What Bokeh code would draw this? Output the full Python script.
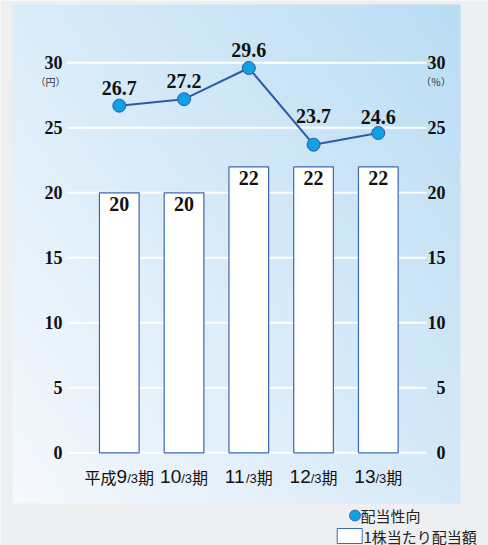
import numpy as np
from bokeh.plotting import figure
from bokeh.models import ColumnDataSource, Range1d
from bokeh.core.properties import value
from bokeh.embed import file_html
from bokeh.resources import INLINE

# ---------------- data ----------------
period_prefix = ["平成", "", "", "", ""]
period_year = ["9", "10", "11", "12", "13"]
period_month = "/3"
period_kanji = "期"
dividend = [20, 20, 22, 22, 22]            # 1株当たり配当額 (円)
payout = [26.7, 27.2, 29.6, 23.7, 24.6]    # 配当性向 (%)
y_ticks = [0, 5, 10, 15, 20, 25, 30]
left_unit = "（円）"
right_unit = "（％）"
legend_labels = ["配当性向", "1株当たり配当額"]

# ---------------- layout (page pixels -> data) ----------------
W, H = 488, 545
CAT0, STEP = 118.8, 64.75
ZERO, UNIT = 452.3, 13.0


def dx(px):
    return (px - CAT0) / STEP


def dy(py):
    return (ZERO - py) / UNIT


GRAY = "#edeff1"
BLUE_LINE = "#2d5ba8"
BAR_LINE = "#3b67b4"
DOT = "#0fa1e6"
SERIF = value("Liberation Serif")
SANS = value("Noto Sans CJK JP")
DIGITS = value("Liberation Sans")

p = figure(width=W, height=H, x_range=Range1d(dx(0), dx(W)), y_range=Range1d(dy(H), dy(0)),
           output_backend="svg", toolbar_location=None, min_border=0, title=None,
           x_axis_type=None, y_axis_type=None, outline_line_color=None,
           background_fill_color=GRAY, border_fill_color=GRAY)
p.grid.visible = False

# gradient panel
nx, ny = 224, 250
u = np.linspace(0, 1, nx)[None, :]
v = np.linspace(0, 1, ny)[:, None]
t = 0.55 * u + 0.45 * v
c0 = np.array([246, 249, 253])
c1 = np.array([186, 221, 244])
img = np.empty((ny, nx), dtype=np.uint32)
view = img.view(dtype=np.uint8).reshape((ny, nx, 4))
for k in range(3):
    view[:, :, k] = (c0[k] + (c1[k] - c0[k]) * t).astype(np.uint8)
view[:, :, 3] = 255
p.image_rgba(image=[img], x=dx(12), y=dy(503), dw=dx(460) - dx(12), dh=dy(4) - dy(503))

# grid lines
p.segment(x0=[dx(66.7)] * len(y_ticks), x1=[dx(426)] * len(y_ticks), y0=y_ticks, y1=y_ticks,
          line_color="white", line_width=2)

xs = list(range(len(dividend)))

# bars
p.vbar(x=xs, top=dividend, bottom=0, width=0.613, fill_color="white", line_color=BAR_LINE, line_width=1.2)
p.text(x=xs, y=dividend, text=[str(d) for d in dividend], text_align="center", text_baseline="middle",
       y_offset=11, text_font=SERIF, text_font_style="bold", text_font_size="20px", text_color="#111111")

# line
p.line(xs, payout, line_color=BLUE_LINE, line_width=2)
p.scatter(xs, payout, size=13, fill_color=DOT, line_color=BLUE_LINE, line_width=1)
label_dy = [-18, -18, -18, -29, -16]
p.text(x=xs, y=payout, text=[f"{v:.1f}" for v in payout], text_align="center", text_baseline="middle",
       y_offset=label_dy, text_font=SERIF, text_font_style="bold", text_font_size="20px", text_color="#111111")

# tick labels
tick_txt = [str(t) for t in y_ticks]
for xp in (62, 445):
    p.text(x=[dx(xp)] * len(y_ticks), y=y_ticks, text=tick_txt, text_align="right", text_baseline="middle",
           text_font=SERIF, text_font_style="bold", text_font_size="18px", text_color="#111111")
p.text(x=[dx(50)], y=[dy(81)], text=[left_unit], text_align="center", text_baseline="middle",
       text_font=SANS, text_font_size="10px", text_color="#333333")
p.text(x=[dx(435.5)], y=[dy(81)], text=[right_unit], text_align="center", text_baseline="middle",
       text_font=SANS, text_font_size="10px", text_color="#333333")

# category labels: prefix kanji (16px), year digits (19px), "/3" (13px), 期 (16px)
KANJI_PX, DIGIT_PX, SMALL_PX = 16, 19, 13
w_prefix = [KANJI_PX * len(s) for s in period_prefix]
w_year = [0.556 * DIGIT_PX * len(s) for s in period_year]
w_month = 0.834 * SMALL_PX
w_kanji = KANJI_PX
starts = [-(a + b + w_month + w_kanji) / 2 for a, b in zip(w_prefix, w_year)]
parts = [
    (period_prefix, starts, KANJI_PX, 476, SANS),
    (period_year, [s + a for s, a in zip(starts, w_prefix)], DIGIT_PX, 476, DIGITS),
    ([period_month] * 5, [s + a + b for s, a, b in zip(starts, w_prefix, w_year)], SMALL_PX, 478, DIGITS),
    ([period_kanji] * 5, [s + a + b + w_month for s, a, b in zip(starts, w_prefix, w_year)], KANJI_PX, 476, SANS),
]
for txt, offs, fs, yp, fnt in parts:
    src = ColumnDataSource(dict(x=xs, y=[dy(yp)] * 5, text=txt, xo=offs))
    p.text(x="x", y="y", text="text", x_offset="xo", source=src, text_align="left",
           text_baseline="middle", text_font=fnt, text_font_size=f"{fs}px", text_color="#111111")

# legend (outside the panel)
p.scatter([dx(354.5)], [dy(515)], size=11, fill_color=DOT, line_color=BLUE_LINE, line_width=0.8)
p.text(x=[dx(360)], y=[dy(515)], text=[legend_labels[0]], text_align="left", text_baseline="middle",
       text_font=SANS, text_font_size="15px", text_color="#222222")
p.rect(x=[dx(349.2)], y=[dy(535.5)], width=25, height=15, width_units="screen", height_units="screen",
       fill_color="white", line_color=BAR_LINE, line_width=1)
p.text(x=[dx(363)], y=[dy(535.5)], text=[legend_labels[1]], text_align="left", text_baseline="middle",
       text_font=SANS, text_font_size="15px", text_color="#222222")

open("out.html", "w").write(file_html(p, INLINE))
